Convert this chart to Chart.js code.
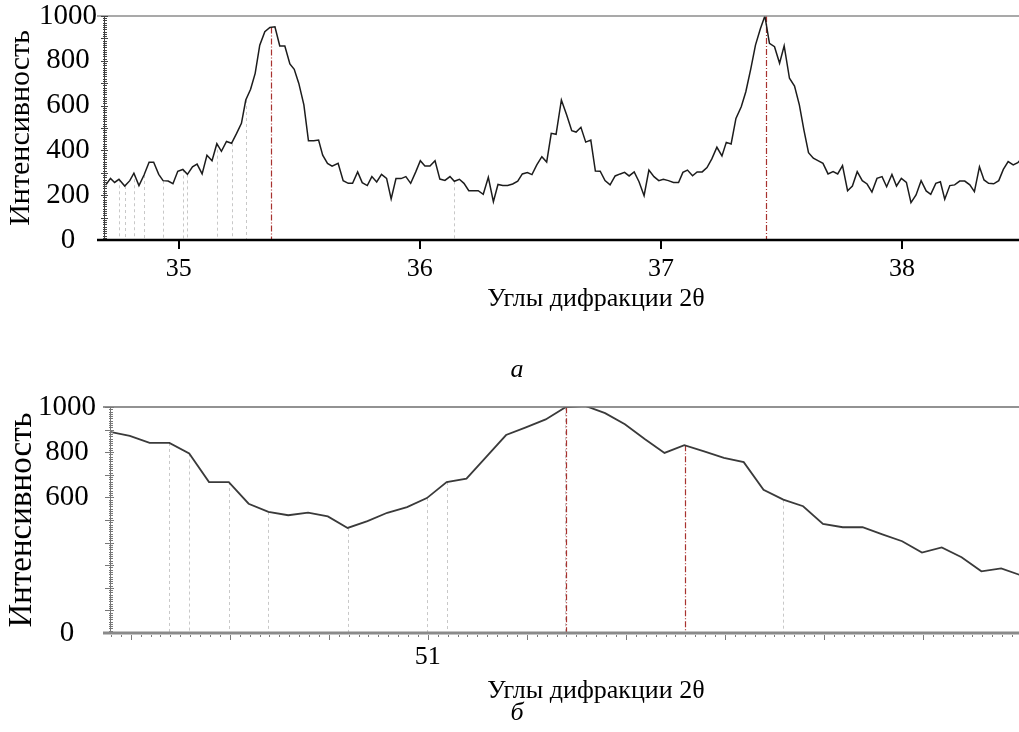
<!DOCTYPE html>
<html>
<head>
<meta charset="utf-8">
<script src="https://cdn.jsdelivr.net/npm/chart.js@4.4.1/dist/chart.umd.min.js"></script>
<style>
    body { margin: 0; background: #fff; width: 1019px; height: 732px; position: relative; overflow: hidden; font-family: 'Liberation Serif', 'Times New Roman', serif; }
    .box { position: absolute; left: 0; width: 1019px; }
    .lbl { position: absolute; font-size: 26px; line-height: 30px; color: #000; white-space: nowrap; transform: translateX(-50%); }
    .cap { font-style: italic; }
</style>
</head>
<body>
<div class="box" style="top:0;height:320px"><canvas id="chartA" width="1019" height="320"></canvas></div>
<div class="box" style="top:380px;height:300px"><canvas id="chartB" width="1019" height="300"></canvas></div>
<div class="lbl" style="left:596px;top:283px">Углы дифракции 2θ</div>
<div class="lbl cap" style="left:517px;top:354px">а</div>
<div class="lbl" style="left:596px;top:675px">Углы дифракции 2θ</div>
<div class="lbl cap" style="left:517px;top:697px">б</div>
<script>
// --- (а) 34.7–38.5°
const anglesA = [
    34.697, 34.717, 34.734, 34.752, 34.776, 34.797, 34.814, 34.835, 34.856, 34.877,
    34.896, 34.917, 34.935, 34.956, 34.976, 34.996, 35.017, 35.036, 35.057, 35.076,
    35.097, 35.117, 35.138, 35.158, 35.177, 35.198, 35.219, 35.240, 35.260, 35.278,
    35.298, 35.317, 35.336, 35.357, 35.378, 35.399, 35.419, 35.440, 35.461, 35.479,
    35.498, 35.519, 35.538, 35.560, 35.580, 35.597, 35.617, 35.636, 35.661, 35.682,
    35.703, 35.721, 35.742, 35.761, 35.782, 35.801, 35.821, 35.841, 35.862, 35.881,
    35.901, 35.922, 35.942, 35.962, 35.983, 36.002, 36.021, 36.042, 36.063, 36.083,
    36.104, 36.125, 36.143, 36.164, 36.183, 36.203, 36.222, 36.242, 36.263, 36.284,
    36.305, 36.324, 36.344, 36.364, 36.385, 36.406, 36.425, 36.446, 36.465, 36.485,
    36.506, 36.526, 36.545, 36.565, 36.587, 36.609, 36.630, 36.648, 36.668, 36.688,
    36.709, 36.728, 36.748, 36.768, 36.789, 36.810, 36.831, 36.849, 36.868, 36.889,
    36.909, 36.930, 36.950, 36.971, 36.991, 37.010, 37.031, 37.052, 37.073, 37.091,
    37.110, 37.131, 37.150, 37.171, 37.191, 37.211, 37.232, 37.253, 37.271, 37.291,
    37.311, 37.333, 37.352, 37.373, 37.392, 37.412, 37.431, 37.450, 37.471, 37.492,
    37.511, 37.533, 37.554, 37.574, 37.593, 37.612, 37.632, 37.651, 37.672, 37.693,
    37.714, 37.733, 37.753, 37.774, 37.794, 37.814, 37.835, 37.855, 37.875, 37.896,
    37.917, 37.936, 37.958, 37.977, 37.997, 38.018, 38.037, 38.058, 38.079, 38.100,
    38.119, 38.140, 38.159, 38.177, 38.198, 38.218, 38.239, 38.260, 38.281, 38.300,
    38.321, 38.340, 38.359, 38.380, 38.401, 38.420, 38.440, 38.461, 38.480, 38.500,
];
const intensityA = [
    245, 275, 257, 271, 241, 265, 298, 243, 290, 347,
    347, 293, 265, 263, 251, 307, 315, 293, 327, 339,
    295, 378, 354, 430, 396, 440, 432, 476, 521, 625,
    673, 744, 870, 930, 949, 952, 866, 866, 786, 762,
    699, 603, 443, 443, 446, 379, 342, 330, 342, 265,
    253, 253, 304, 256, 243, 283, 259, 293, 275, 183,
    274, 274, 283, 253, 304, 354, 330, 330, 354, 272,
    266, 283, 262, 271, 253, 220, 220, 220, 204, 280,
    171, 248, 243, 243, 250, 263, 295, 301, 292, 335,
    372, 348, 476, 472, 625, 558, 488, 482, 503, 437,
    446, 308, 307, 265, 246, 286, 295, 302, 286, 304,
    260, 198, 312, 283, 265, 271, 265, 257, 257, 302,
    312, 287, 304, 304, 323, 362, 414, 375, 436, 429,
    543, 595, 662, 766, 870, 942, 1000, 878, 863, 789,
    867, 722, 687, 603, 491, 390, 365, 354, 342, 295,
    305, 295, 332, 220, 241, 305, 265, 250, 214, 275,
    283, 238, 293, 241, 275, 257, 167, 201, 265, 219,
    204, 253, 260, 182, 243, 246, 263, 263, 246, 216,
    327, 268, 253, 251, 265, 315, 350, 335, 345, 370,
];
const xTicksA = [35, 36, 37, 38];
const yTicksA = [0, 200, 400, 600, 800, 1000];
const dropsA = [34.752, 34.776, 34.814, 34.856, 34.935, 35.017, 35.036, 35.158, 35.219, 35.278, 36.143];
const peaksA = [35.378, 37.431];

// --- (б) около 51°
const anglesB = [
    50.679, 50.699, 50.719, 50.739, 50.759, 50.779, 50.799, 50.819, 50.839, 50.859,
    50.879, 50.899, 50.919, 50.939, 50.959, 50.979, 50.999, 51.019, 51.039, 51.059,
    51.079, 51.099, 51.119, 51.139, 51.159, 51.179, 51.199, 51.219, 51.239, 51.259,
    51.279, 51.299, 51.319, 51.339, 51.359, 51.379, 51.399, 51.419, 51.439, 51.459,
    51.479, 51.499, 51.519, 51.539, 51.559, 51.579, 51.599,
];
const intensityB = [
    890, 872, 841, 841, 794, 668, 668, 572, 536, 521,
    533, 516, 465, 495, 532, 557, 597, 668, 683, 779,
    876, 910, 945, 999, 1005, 973, 924, 858, 797, 831,
    804, 775, 756, 634, 590, 561, 483, 468, 468, 436,
    406, 356, 379, 335, 273, 286, 255,
];
const xTicksB = [51];
const yTicksB = [0, 600, 800, 1000];
const dropsB = [50.739, 50.759, 50.799, 50.839, 50.919, 50.999, 51.019, 51.139, 51.359];
const peaksB = [51.139, 51.259];

const FONT = "'Liberation Serif', 'Times New Roman', serif";

function nearestPoint(pts, ang) {
    let best = pts[0];
    for (const p of pts) if (Math.abs(p.x - ang) < Math.abs(best.x - ang)) best = p;
    return best;
}

// рамка, линейки делений и вертикальные отметки пиков
const xrdDecor = {
    id: 'xrdDecor',
    beforeDatasetsDraw(chart, args, o) {
        const { ctx, chartArea: a, scales: { x, y } } = chart;
        const pts = chart.data.datasets[0].data;
        ctx.save();
        ctx.lineWidth = 1;
        ctx.setLineDash([3, 3]);
        ctx.strokeStyle = '#c8c8c8';
        for (const ang of o.drops) {
            const p = nearestPoint(pts, ang);
            const px = Math.round(x.getPixelForValue(p.x)) + 0.5;
            ctx.beginPath();
            ctx.moveTo(px, y.getPixelForValue(p.y));
            ctx.lineTo(px, a.bottom);
            ctx.stroke();
        }
        ctx.setLineDash([6, 2, 1, 2]);
        ctx.strokeStyle = '#a8322f';
        ctx.lineWidth = 1.2;
        for (const ang of o.peaks) {
            const p = nearestPoint(pts, ang);
            const px = Math.round(x.getPixelForValue(p.x)) + 1.5;
            ctx.beginPath();
            ctx.moveTo(px, Math.max(a.top, y.getPixelForValue(p.y)));
            ctx.lineTo(px, a.bottom);
            ctx.stroke();
        }
        ctx.restore();
    },
    afterDraw(chart, args, o) {
        const { ctx, chartArea: a, scales: { x, y } } = chart;
        ctx.save();
        // верхняя граница
        ctx.strokeStyle = o.topColor;
        ctx.lineWidth = 1.5;
        ctx.beginPath();
        ctx.moveTo(a.left - o.over, a.top);
        ctx.lineTo(a.right, a.top);
        ctx.stroke();
        // ось Y с линейкой
        ctx.strokeStyle = o.yColor;
        ctx.lineWidth = 1;
        ctx.beginPath();
        ctx.moveTo(a.left + 0.5, a.top);
        ctx.lineTo(a.left + 0.5, a.bottom);
        ctx.stroke();
        for (let v = 0; v <= y.max; v += 10) {
            const py = Math.round(y.getPixelForValue(v)) + 0.5;
            const major = v % 100 === 0;
            ctx.beginPath();
            ctx.moveTo(a.left - (major ? o.yMajor : 1), py);
            ctx.lineTo(a.left + (major ? 4 : 3), py);
            ctx.stroke();
        }
        // ось X
        if (o.xMinor) {
            ctx.strokeStyle = '#7a7a7a';
            ctx.lineWidth = 1;
            const start = Math.ceil(x.min * 100);
            for (let k = start; k <= x.max * 100; k++) {
                const px = Math.round(x.getPixelForValue(k / 100)) + 0.5;
                ctx.beginPath();
                ctx.moveTo(px, a.bottom + 2);
                ctx.lineTo(px, a.bottom + (k % 10 === 0 ? 7 : 4));
                ctx.stroke();
            }
        }
        ctx.strokeStyle = o.xColor;
        ctx.lineWidth = o.xWidth;
        ctx.beginPath();
        ctx.moveTo(a.left - o.over, a.bottom);
        ctx.lineTo(a.right, a.bottom);
        ctx.stroke();
        ctx.restore();
    },
};

function makeChart(id, angles, values, cfg) {
    const pts = angles.map((a, i) => ({ x: a, y: values[i] }));
    return new Chart(document.getElementById(id), {
        type: 'line',
        data: {
            datasets: [{
                data: pts,
                borderColor: cfg.lineColor,
                borderWidth: cfg.lineWidth,
                pointRadius: 0,
                tension: 0,
                fill: false,
            }],
        },
        options: {
            responsive: false,
            animation: false,
            events: [],
            layout: { padding: { top: cfg.padTop, right: 0, bottom: 0, left: 0 } },
            plugins: {
                legend: { display: false },
                tooltip: { enabled: false },
                xrdDecor: cfg.decor,
            },
            scales: {
                x: {
                    type: 'linear',
                    min: cfg.xMin,
                    max: cfg.xMax,
                    afterBuildTicks: (s) => { s.ticks = cfg.xTicks.map((v) => ({ value: v })); },
                    afterFit: (s) => { s.height = cfg.xHeight; s.paddingLeft = 0; s.paddingRight = 0; },
                    grid: {
                        drawOnChartArea: false,
                        drawTicks: cfg.xTickLen > 0,
                        display: cfg.xTickLen > 0,
                        tickLength: cfg.xTickLen,
                        color: '#000',
                        lineWidth: 2,
                    },
                    border: { display: false },
                    ticks: {
                        color: '#000',
                        padding: cfg.xPad,
                        maxRotation: 0,
                        font: { family: FONT, size: 26 },
                        callback: (v) => String(v),
                    },
                },
                y: {
                    min: 0,
                    max: 1000,
                    afterBuildTicks: (s) => { s.ticks = cfg.yTicks.map((v) => ({ value: v })); },
                    afterFit: (s) => { s.width = cfg.yWidth; s.paddingTop = 0; s.paddingBottom = 0; },
                    grid: { display: false, drawTicks: false },
                    border: { display: false },
                    ticks: {
                        color: '#000',
                        padding: cfg.yPad,
                        crossAlign: 'center',
                        font: { family: FONT, size: 29 },
                        callback: (v) => String(v),
                    },
                    title: {
                        display: true,
                        text: 'Интенсивность',
                        color: '#000',
                        padding: { top: 3, bottom: 0 },
                        font: { family: FONT, size: cfg.titleSize },
                    },
                },
            },
        },
        plugins: [xrdDecor],
    });
}

makeChart('chartA', anglesA, intensityA, {
    lineColor: '#1c1c1c', lineWidth: 1.5, titleSize: 30,
    padTop: 16, xMin: 34.69, xMax: 38.485, xTicks: xTicksA, xHeight: 80,
    xTickLen: 9, xPad: 5, yTicks: yTicksA, yWidth: 104, yPad: 7,
    decor: { drops: dropsA, peaks: peaksA, topColor: '#8c8c8c', yColor: '#444', yMajor: 3,
        xColor: '#000', xWidth: 2.5, over: 7, xMinor: false },
});

makeChart('chartB', anglesB, intensityB, {
    lineColor: '#3a3a3a', lineWidth: 1.8, titleSize: 33,
    padTop: 27, xMin: 50.679, xMax: 51.597, xTicks: xTicksB, xHeight: 47,
    xTickLen: 0, xPad: 9, yTicks: yTicksB, yWidth: 110, yPad: 14,
    decor: { drops: dropsB, peaks: peaksB, topColor: '#6e6e6e', yColor: '#777', yMajor: 5,
        xColor: '#8a8a8a', xWidth: 3, over: 7, xMinor: true },
});
</script>
</body>
</html>
